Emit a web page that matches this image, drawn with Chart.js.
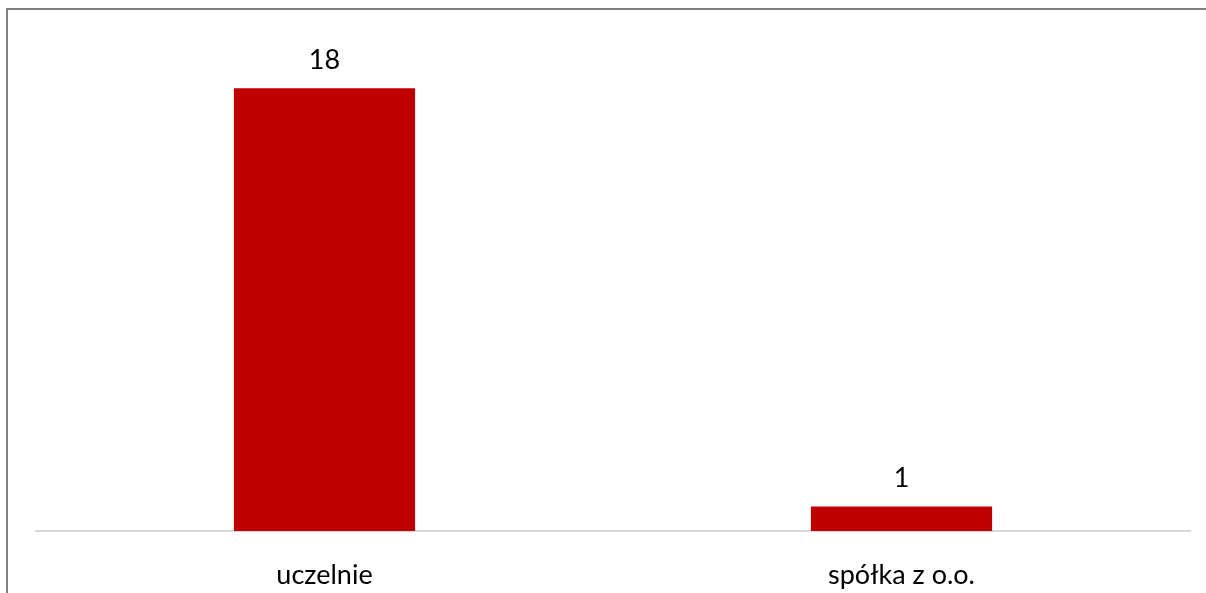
<!DOCTYPE html>
<html lang="pl">
<head>
  <meta charset="UTF-8" />
  <title>uczelnie / spółka z o.o.</title>
  <script src="https://cdn.jsdelivr.net/npm/chart.js"></script>
  <style>
    html, body {
      margin: 0;
      padding: 0;
      background: #ffffff;
      overflow: hidden;
    }
    .frame {
      position: absolute;
      left: 6px;
      top: 8px;
      width: 1400px;
      height: 800px;
      border: 2px solid #808080;
    }
    .wrap {
      position: absolute;
      left: 0;
      top: 0;
      width: 1206px;
      height: 593px;
    }
  </style>
</head>
<body>
  <div class="frame"></div>
  <div class="wrap"><canvas id="chart"></canvas></div>

  <script>
    const categories = ["uczelnie", "spółka z o.o."];
    const counts = [18, 1];
    const yMax = 20;

    const FONT = "Lato, Carlito, 'Open Sans', sans-serif";
    const FONT_SIZE = 27;

    // value printed above each bar
    const valueLabels = {
      id: "valueLabels",
      afterDatasetsDraw(chart) {
        const ctx = chart.ctx;
        const meta = chart.getDatasetMeta(0);
        ctx.save();
        ctx.font = FONT_SIZE + "px " + FONT;
        ctx.fillStyle = "#000000";
        ctx.textAlign = "center";
        ctx.textBaseline = "middle";
        meta.data.forEach((bar, i) => {
          ctx.fillText(String(counts[i]), bar.x, bar.y - 28);
        });
        ctx.restore();
      }
    };

    new Chart(document.getElementById("chart"), {
      type: "bar",
      data: {
        labels: categories,
        datasets: [{
          data: counts,
          backgroundColor: "#c00000",
          borderWidth: 0,
          barPercentage: 1,
          categoryPercentage: 0.314
        }]
      },
      options: {
        responsive: true,
        maintainAspectRatio: false,
        animation: false,
        layout: {
          padding: { left: 36, right: 16, top: 39, bottom: 0 }
        },
        plugins: {
          legend: { display: false },
          tooltip: { enabled: false }
        },
        scales: {
          x: {
            grid: { display: false, drawTicks: false },
            border: { display: true, color: "#d9d9d9", width: 2 },
            ticks: {
              color: "#000000",
              padding: 28,
              font: { family: FONT, size: FONT_SIZE }
            },
            afterFit(scale) {
              scale.height = 62;
            }
          },
          y: {
            display: false,
            min: 0,
            max: yMax
          }
        }
      },
      plugins: [valueLabels]
    });
  </script>
</body>
</html>
